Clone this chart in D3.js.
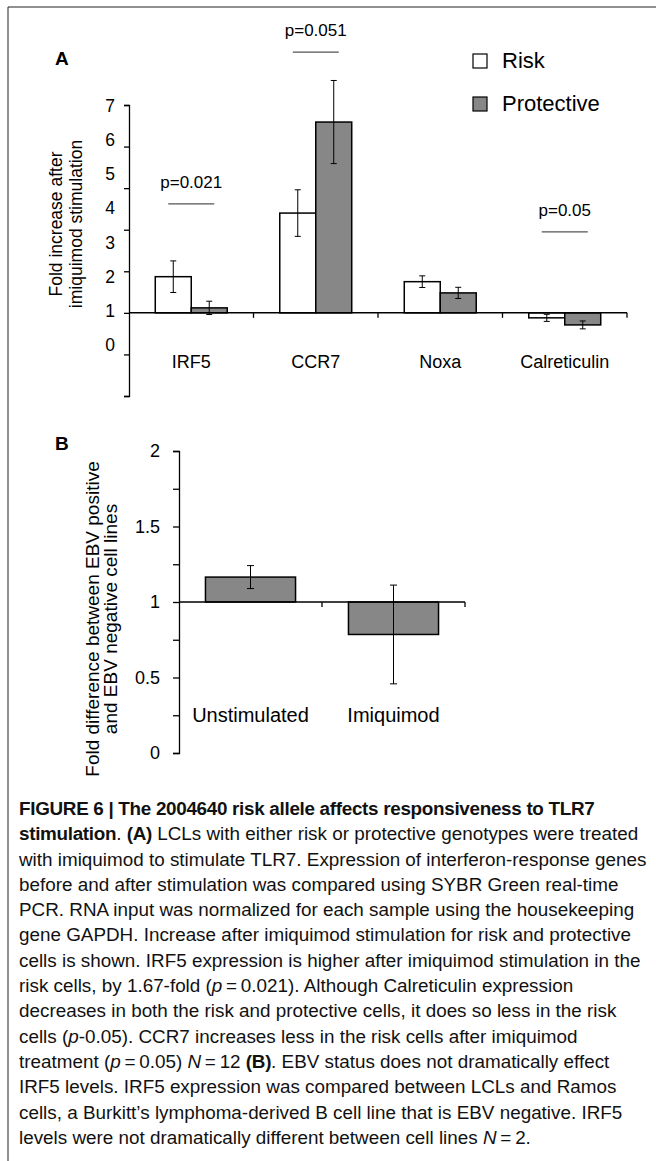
<!DOCTYPE html>
<html>
<head>
<meta charset="utf-8">
<script src="https://cdn.jsdelivr.net/npm/d3@7"></script>
<style>
  html, body { margin: 0; padding: 0; background: #fff; }
  svg { display: block; font-family: "Liberation Sans", Arial, Helvetica, sans-serif; }
</style>
</head>
<body>
<div id="chart"></div>
<script>
// panel A: fold increase after imiquimod
const genes = ['IRF5', 'CCR7', 'Noxa', 'Calreticulin'];
const groups = ['Risk', 'Protective'];
const riskMean = [1.87, 3.40, 1.75, 0.88];
const riskErr = [0.38, 0.56, 0.14, 0.085];
const protMean = [1.12, 5.59, 1.48, 0.71];
const protErr = [0.16, 1.0, 0.135, 0.095];
const yTicksA = [-1, 0, 1, 2, 3, 4, 5, 6];
const yLabelsA = [0, 1, 2, 3, 4, 5, 6, 7];
const pGenes = ['IRF5', 'CCR7', 'Calreticulin'];
const pLabels = ['p=0.021', 'p=0.051', 'p=0.05'];
const pLevels = [3.62, 7.27, 2.95];

// panel B: EBV positive vs negative
const conditions = ['Unstimulated', 'Imiquimod'];
const ebvMean = [1.165, 0.785];
const ebvErr = [0.076, 0.327];
const yTicksB = [0, 0.25, 0.5, 0.75, 1, 1.25, 1.5, 1.75, 2];

// caption, one entry per printed line; b = bold, i = italic
const caption = [
  [['FIGURE 6 | The 2004640 risk allele affects responsiveness to TLR7', 'b']],
  [['stimulation', 'b'], ['. ', ''], ['(A)', 'b'], [' LCLs with either risk or protective genotypes were treated', '']],
  [['with imiquimod to stimulate TLR7. Expression of interferon-response genes', '']],
  [['before and after stimulation was compared using SYBR Green real-time', '']],
  [['PCR. RNA input was normalized for each sample using the housekeeping', '']],
  [['gene GAPDH. Increase after imiquimod stimulation for risk and protective', '']],
  [['cells is shown. IRF5 expression is higher after imiquimod stimulation in the', '']],
  [['risk cells, by 1.67-fold (', ''], ['p', 'i'], ['\u2009=\u20090.021). Although Calreticulin expression', '']],
  [['decreases in both the risk and protective cells, it does so less in the risk', '']],
  [['cells (', ''], ['p', 'i'], ['-0.05). CCR7 increases less in the risk cells after imiquimod', '']],
  [['treatment (', ''], ['p', 'i'], ['\u2009=\u20090.05) ', ''], ['N', 'i'], ['\u2009=\u200912 ', ''], ['(B)', 'b'], ['. EBV status does not dramatically effect', '']],
  [['IRF5 levels. IRF5 expression was compared between LCLs and Ramos', '']],
  [['cells, a Burkitt\u2019s lymphoma-derived B cell line that is EBV negative. IRF5', '']],
  [['levels were not dramatically different between cell lines ', ''], ['N', 'i'], ['\u2009=\u20092.', '']]
];

const W = 656, H = 1161;
const gray = '#878787';

const svg = d3.select('#chart').append('svg')
  .attr('width', W)
  .attr('height', H);

// frame
svg.append('line').attr('x1', 8).attr('x2', W).attr('y1', 7).attr('y2', 7)
  .attr('stroke', '#222').attr('stroke-width', 1);
svg.append('line').attr('x1', 8).attr('x2', 8).attr('y1', 7).attr('y2', H)
  .attr('stroke', '#222').attr('stroke-width', 1);

// ---------- panel A ----------
const yA = d3.scaleLinear().domain([-1, 6]).range([396, 105]);
// the printed tick labels drift from the tick marks, so they get their own scale
const yLab = d3.scaleLinear().domain([0, 7]).range([yA(0.23), yA(5.98)]);
const xA = d3.scaleBand().domain(genes).range([129, 627]);
const xSub = d3.scaleBand().domain(groups).range([0, xA.bandwidth()]).paddingInner(0).paddingOuter(0.73);

const gA = svg.append('g');

gA.append('text').attr('x', 55).attr('y', 65)
  .attr('font-size', 19).attr('font-weight', 'bold').text('A');

const axA = gA.append('g').attr('transform', 'translate(129,0)')
  .call(d3.axisLeft(yA).tickValues(yTicksA).tickSize(5).tickSizeOuter(5).tickFormat(''));
axA.selectAll('path, line').attr('stroke', '#000').attr('stroke-width', 1.3);

const labA = gA.append('g').attr('transform', 'translate(129,0)')
  .call(d3.axisLeft(yLab).tickValues(yLabelsA).tickSize(0).tickPadding(14).tickFormat(d3.format('d')));
labA.select('.domain').remove();
labA.selectAll('text').attr('font-size', 17.5).attr('font-family', null).attr('fill', '#000');

const titleA = ['Fold increase after', 'imiquimod stimulation'];
gA.selectAll('.ytA').data(titleA).enter().append('text')
  .attr('transform', (d, i) => `translate(${62 + i * 20},224) rotate(-90)`)
  .attr('text-anchor', 'middle').attr('font-size', 17.5).text(d => d);

const barsA = [];
genes.forEach((g, i) => {
  barsA.push({ gene: g, group: 'Risk', v: riskMean[i], e: riskErr[i] });
  barsA.push({ gene: g, group: 'Protective', v: protMean[i], e: protErr[i] });
});

gA.selectAll('.barA').data(barsA).enter().append('rect')
  .attr('x', d => xA(d.gene) + xSub(d.group))
  .attr('width', xSub.bandwidth())
  .attr('y', d => Math.min(yA(d.v), yA(1)))
  .attr('height', d => Math.abs(yA(d.v) - yA(1)))
  .attr('fill', d => d.group === 'Risk' ? '#fff' : gray)
  .attr('stroke', '#000').attr('stroke-width', 1.5);

// category axis crossing at 1
gA.append('line').attr('x1', 129).attr('x2', xA.range()[1])
  .attr('y1', yA(1)).attr('y2', yA(1)).attr('stroke', '#000').attr('stroke-width', 1.5);
gA.selectAll('.ctA').data(genes).enter().append('line')
  .attr('x1', d => xA(d) + xA.bandwidth()).attr('x2', d => xA(d) + xA.bandwidth())
  .attr('y1', yA(1)).attr('y2', yA(1) + 5).attr('stroke', '#000').attr('stroke-width', 1.3);
gA.selectAll('.clA').data(genes).enter().append('text')
  .attr('x', d => xA(d) + xA.bandwidth() / 2).attr('y', yA(1) + 55)
  .attr('text-anchor', 'middle').attr('font-size', 18).text(d => d);

function errorBars(g, data, cx, y, half) {
  const eb = g.selectAll(null).data(data).enter().append('g')
    .attr('stroke', '#000').attr('stroke-width', 1);
  eb.append('line').attr('x1', cx).attr('x2', cx)
    .attr('y1', d => y(d.v + d.e)).attr('y2', d => y(d.v - d.e));
  eb.append('line').attr('x1', d => cx(d) - half).attr('x2', d => cx(d) + half)
    .attr('y1', d => y(d.v + d.e)).attr('y2', d => y(d.v + d.e));
  eb.append('line').attr('x1', d => cx(d) - half).attr('x2', d => cx(d) + half)
    .attr('y1', d => y(d.v - d.e)).attr('y2', d => y(d.v - d.e));
}
errorBars(gA, barsA, d => xA(d.gene) + xSub(d.group) + xSub.bandwidth() / 2, yA, 3);

// significance marks
const pData = pGenes.map((g, i) => ({ gene: g, label: pLabels[i], level: pLevels[i] }));
gA.selectAll('.pl').data(pData).enter().append('line')
  .attr('x1', d => xA(d.gene) + xA.bandwidth() / 2 - 23)
  .attr('x2', d => xA(d.gene) + xA.bandwidth() / 2 + 23)
  .attr('y1', d => yA(d.level)).attr('y2', d => yA(d.level))
  .attr('stroke', '#555').attr('stroke-width', 1.3);
gA.selectAll('.pt').data(pData).enter().append('text')
  .attr('x', d => xA(d.gene) + xA.bandwidth() / 2)
  .attr('y', d => yA(d.level) - 16)
  .attr('text-anchor', 'middle').attr('font-size', 17).text(d => d.label);

// legend
const leg = gA.selectAll('.leg').data(groups).enter().append('g')
  .attr('transform', (d, i) => `translate(473,${54 + i * 43})`);
leg.append('rect').attr('width', 14).attr('height', 14)
  .attr('fill', d => d === 'Risk' ? '#fff' : gray).attr('stroke', '#000').attr('stroke-width', 1.2);
leg.append('text').attr('x', 29).attr('y', 14).attr('font-size', 22).text(d => d);

// ---------- panel B ----------
const yB = d3.scaleLinear().domain([0, 2]).range([753, 451]);
const xB = d3.scaleBand().domain(conditions).range([179, 465]);
const barW = xB.bandwidth() * 0.63;

const gB = svg.append('g');
gB.append('text').attr('x', 55).attr('y', 450)
  .attr('font-size', 19).attr('font-weight', 'bold').text('B');

const axB = gB.append('g').attr('transform', 'translate(179,0)')
  .call(d3.axisLeft(yB).tickValues(yTicksB).tickSize(6).tickSizeOuter(6).tickPadding(13)
    .tickFormat(d => (d * 2) % 1 === 0 ? String(d) : ''));
axB.selectAll('path, line').attr('stroke', '#000').attr('stroke-width', 1.3);
axB.selectAll('text').attr('font-size', 18).attr('font-family', null).attr('fill', '#000');

const titleB = ['Fold difference between EBV positive', 'and EBV negative cell lines'];
gB.selectAll('.ytB').data(titleB).enter().append('text')
  .attr('transform', (d, i) => `translate(${99 + i * 18},619) rotate(-90)`)
  .attr('text-anchor', 'middle').attr('font-size', 19).text(d => d);

const barsB = conditions.map((c, i) => ({ cond: c, v: ebvMean[i], e: ebvErr[i] }));
gB.selectAll('.barB').data(barsB).enter().append('rect')
  .attr('x', d => xB(d.cond) + (xB.bandwidth() - barW) / 2)
  .attr('width', barW)
  .attr('y', d => Math.min(yB(d.v), yB(1)))
  .attr('height', d => Math.abs(yB(d.v) - yB(1)))
  .attr('fill', gray).attr('stroke', '#000').attr('stroke-width', 1.5);

gB.append('line').attr('x1', 179).attr('x2', xB.range()[1])
  .attr('y1', yB(1)).attr('y2', yB(1)).attr('stroke', '#000').attr('stroke-width', 1.3);
gB.selectAll('.ctB').data(conditions).enter().append('line')
  .attr('x1', d => xB(d) + xB.bandwidth()).attr('x2', d => xB(d) + xB.bandwidth())
  .attr('y1', yB(1)).attr('y2', yB(1) + 5).attr('stroke', '#000').attr('stroke-width', 1.3);

errorBars(gB, barsB, d => xB(d.cond) + xB.bandwidth() / 2, yB, 3.5);

gB.selectAll('.clB').data(conditions).enter().append('text')
  .attr('x', d => xB(d) + xB.bandwidth() / 2).attr('y', 722)
  .attr('text-anchor', 'middle').attr('font-size', 20).text(d => d);

// ---------- caption ----------
const cap = svg.append('g').attr('transform', 'translate(19,0) scale(1.02,1)')
  .attr('fill', '#111');
const capLines = cap.selectAll('.cap').data(caption).enter().append('text')
  .attr('x', 0).attr('y', (d, i) => 815 + i * 25.3)
  .attr('font-size', 18.5);
capLines.selectAll('tspan').data(d => d).enter().append('tspan')
  .attr('font-weight', d => d[1] === 'b' ? 'bold' : null)
  .attr('font-style', d => d[1] === 'i' ? 'italic' : null)
  .attr('letter-spacing', d => d[1] === 'b' ? -0.3 : null)
  .text(d => d[0]);
</script>
</body>
</html>
